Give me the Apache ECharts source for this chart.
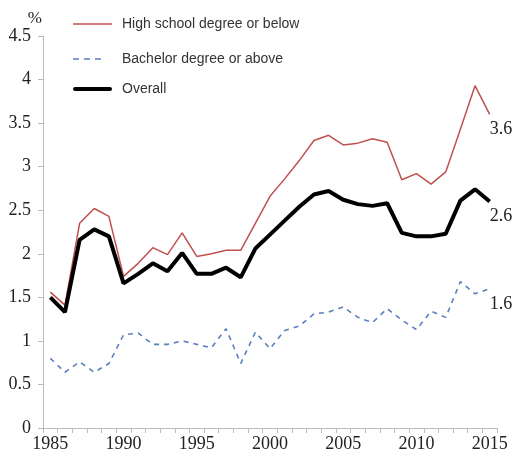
<!DOCTYPE html>
<html>
<head>
<meta charset="utf-8">
<script src="https://cdn.jsdelivr.net/npm/echarts@6/dist/echarts.min.js"></script>
<style>
  html, body { margin: 0; padding: 0; background: #fff; }
  #chart { width: 514px; height: 458px; }
</style>
</head>
<body>
<div id="chart"></div>
<script>
// Years on the category axis
const years = [];
for (let y = 1985; y <= 2015; y++) years.push(String(y));

// Rates (%) by education level
const highSchool = [1.56, 1.41, 2.35, 2.52, 2.43, 1.74, 1.89, 2.07, 1.99, 2.24,
  1.97, 2.00, 2.04, 2.04, 2.35, 2.66, 2.86, 3.07, 3.30, 3.36,
  3.25, 3.27, 3.32, 3.28, 2.85, 2.92, 2.80, 2.94, 3.43, 3.93, 3.6];
const bachelor = [0.80, 0.64, 0.76, 0.64, 0.74, 1.07, 1.09, 0.96, 0.96, 1.00,
  0.96, 0.92, 1.14, 0.74, 1.10, 0.91, 1.12, 1.17, 1.31, 1.33,
  1.39, 1.27, 1.21, 1.37, 1.24, 1.13, 1.34, 1.27, 1.68, 1.54, 1.6];
const overall = [1.50, 1.33, 2.16, 2.28, 2.20, 1.66, 1.77, 1.89, 1.80, 2.01,
  1.77, 1.77, 1.84, 1.73, 2.06, 2.22, 2.38, 2.54, 2.68, 2.72,
  2.62, 2.57, 2.55, 2.58, 2.24, 2.20, 2.20, 2.23, 2.61, 2.74, 2.6];

const seriesNames = ['High school degree or below', 'Bachelor degree or above', 'Overall'];

const serif = '"Liberation Serif", "DejaVu Serif", serif';
const sans = '"Liberation Sans", Arial, sans-serif';
const labelColor = '#222';

// Legend samples: the two leading moves pin the icon box to 39x14,
// the filled shapes are the line sample drawn at mid-height
const iconThin = 'path://M0,0M39,14M0,6.25h39v1.5h-39z';
const iconDashed = 'path://M0,0M39,14M0,6.2h6v1.6h-6zM11,6.2h6v1.6h-6zM22,6.2h6v1.6h-6z';
const iconThick = 'path://M0,0M39,14M2,5h35a2,2 0 0 1 0,4h-35a2,2 0 0 1 0,-4z';

function endLabel(dy) {
  return {
    show: true,
    distance: 0,
    offset: [0, dy],
    fontFamily: serif,
    fontSize: 18,
    color: labelColor,
    formatter: p => Number(p.value).toFixed(1)
  };
}

// One legend block per series so each row sits at its own height
function legendAt(name, icon, top) {
  return {
    data: [name],
    icon: icon,
    left: 73,
    top: top,
    padding: 0,
    itemWidth: 39,
    itemHeight: 14,
    itemGap: 0,
    selectedMode: false,
    itemStyle: { borderWidth: 0 },
    textStyle: { fontFamily: sans, fontSize: 14, color: '#333', padding: [0, 0, 0, 5] }
  };
}

const chart = echarts.init(document.getElementById('chart'), null, { renderer: 'canvas' });
chart.setOption({
  animation: false,
  backgroundColor: '#fff',
  grid: { left: 43, right: 17, top: 36, bottom: 30 },
  legend: [
    legendAt(seriesNames[0], iconThin, 17),
    legendAt(seriesNames[1], iconDashed, 52),
    legendAt(seriesNames[2], iconThick, 82)
  ],
  xAxis: {
    type: 'category',
    data: years,
    boundaryGap: true,
    axisLine: { lineStyle: { color: '#bbb', width: 1 } },
    axisTick: { show: true, interval: 0, length: 5, lineStyle: { color: '#bbb' } },
    axisLabel: { interval: 4, margin: 7, fontFamily: serif, fontSize: 18, color: labelColor },
    splitLine: { show: false }
  },
  yAxis: {
    type: 'value',
    min: 0,
    max: 4.5,
    interval: 0.5,
    name: '%',
    nameLocation: 'end',
    nameGap: 8,
    nameTextStyle: { fontFamily: serif, fontSize: 17, color: labelColor, align: 'right', padding: [0, 1, 0, 0] },
    axisLine: { show: true, lineStyle: { color: '#bbb', width: 1 } },
    axisTick: { show: true, length: 5, lineStyle: { color: '#bbb' } },
    axisLabel: { margin: 12, fontFamily: serif, fontSize: 18, color: labelColor },
    splitLine: { show: false }
  },
  series: [
    {
      name: seriesNames[1],
      type: 'line',
      data: bachelor,
      symbol: 'none',
      lineStyle: { color: '#5b7fbf', width: 1.6, type: [5, 5] },
      itemStyle: { color: '#5b7fbf' },
      endLabel: endLabel(16),
      z: 2
    },
    {
      name: seriesNames[0],
      type: 'line',
      data: highSchool,
      symbol: 'none',
      lineStyle: { color: '#c0504d', width: 1.5 },
      itemStyle: { color: '#c0504d' },
      endLabel: endLabel(15),
      z: 3
    },
    {
      name: seriesNames[2],
      type: 'line',
      data: overall,
      symbol: 'none',
      lineStyle: { color: '#000', width: 4 },
      itemStyle: { color: '#000' },
      endLabel: endLabel(15),
      z: 4
    }
  ]
});
</script>
</body>
</html>
